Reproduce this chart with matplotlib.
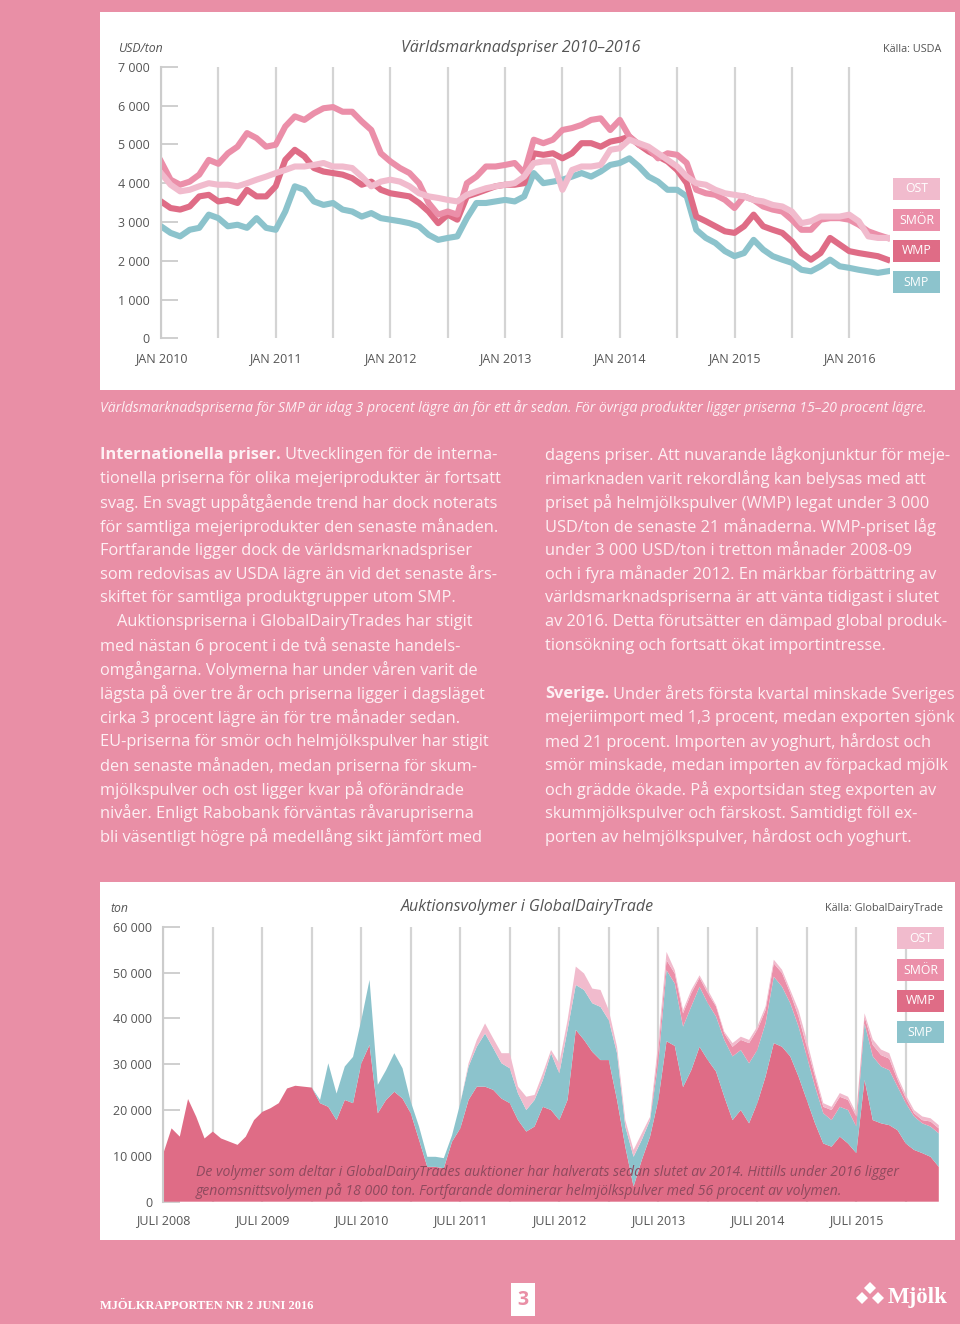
import numpy as np
import matplotlib
matplotlib.use('Agg')
import matplotlib.pyplot as plt
from matplotlib.patches import Rectangle, Polygon

# ---- data: world market prices, USD/ton (thousands), monthly from Jan 2010 ----
smor_price = [4.56, 4.09, 3.96, 4.04, 4.22, 4.60, 4.50, 4.77, 4.94, 5.29, 5.16, 4.94,
              4.99, 5.46, 5.72, 5.63, 5.80, 5.93, 5.96, 5.84, 5.84, 5.59, 5.37, 4.77,
              4.56, 4.39, 4.26, 4.00, 3.49, 3.19, 3.27, 3.19, 4.00, 4.17, 4.43, 4.43,
              4.47, 4.52, 4.26, 5.12, 5.03, 5.12, 5.37, 5.42, 5.50, 5.63, 5.67, 5.37,
              5.63, 5.20, 4.99, 4.90, 4.64, 4.77, 4.73, 4.52, 3.83, 3.74, 3.70, 3.57,
              3.36, 3.66, 3.57, 3.40, 3.32, 3.27, 3.06, 2.80, 2.80, 3.06, 3.10, 3.10,
              3.06, 2.93, 2.76, 2.67, 2.59]
wmp_price = [3.53, 3.36, 3.32, 3.40, 3.66, 3.70, 3.53, 3.57, 3.49, 3.83, 3.66, 3.66,
             3.92, 4.60, 4.86, 4.69, 4.39, 4.30, 4.26, 4.22, 4.13, 3.96, 4.04, 3.83,
             3.74, 3.70, 3.66, 3.49, 3.27, 2.97, 3.19, 3.06, 3.66, 3.74, 3.83, 3.92,
             3.96, 3.96, 4.00, 4.77, 4.73, 4.77, 4.64, 4.77, 5.03, 5.03, 4.94, 5.07,
             5.12, 5.20, 4.99, 4.82, 4.69, 4.56, 4.34, 4.00, 3.14, 3.02, 2.89, 2.76,
             2.72, 2.89, 3.19, 2.89, 2.80, 2.72, 2.50, 2.20, 2.03, 2.20, 2.59, 2.42,
             2.25, 2.20, 2.16, 2.12, 2.03]
ost_price = [4.26, 3.96, 3.79, 3.83, 3.92, 4.00, 3.96, 3.96, 3.92, 4.00, 4.09, 4.17,
             4.26, 4.34, 4.43, 4.43, 4.47, 4.52, 4.43, 4.43, 4.39, 4.17, 3.92, 4.04,
             4.09, 4.04, 3.92, 3.74, 3.66, 3.62, 3.57, 3.53, 3.70, 3.79, 3.87, 3.92,
             3.96, 4.00, 4.17, 4.52, 4.56, 4.56, 3.83, 4.34, 4.43, 4.43, 4.47, 4.86,
             4.90, 5.12, 5.03, 4.94, 4.77, 4.60, 4.43, 4.17, 4.00, 3.96, 3.83, 3.74,
             3.70, 3.66, 3.57, 3.53, 3.44, 3.40, 3.27, 2.97, 3.02, 3.14, 3.14, 3.14,
             3.19, 3.02, 2.63, 2.59, 2.59]
smp_price = [2.89, 2.72, 2.63, 2.80, 2.85, 3.19, 3.10, 2.89, 2.93, 2.85, 3.10, 2.85,
             2.80, 3.27, 3.92, 3.83, 3.53, 3.44, 3.49, 3.32, 3.27, 3.14, 3.23, 3.10,
             3.06, 3.02, 2.97, 2.89, 2.67, 2.54, 2.59, 2.63, 3.10, 3.49, 3.49, 3.53,
             3.57, 3.53, 3.66, 4.26, 4.00, 4.04, 4.09, 4.17, 4.26, 4.17, 4.30, 4.47,
             4.52, 4.64, 4.43, 4.17, 4.04, 3.83, 3.83, 3.66, 2.80, 2.59, 2.46, 2.25,
             2.12, 2.20, 2.54, 2.29, 2.12, 2.03, 1.95, 1.77, 1.73, 1.86, 2.03, 1.86,
             1.82, 1.77, 1.73, 1.69, 1.73]
price_years = ['JAN 2010', 'JAN 2011', 'JAN 2012', 'JAN 2013', 'JAN 2014', 'JAN 2015', 'JAN 2016']

# ---- data: GDT auction volumes, thousand ton, monthly from Jul 2008 ----
wmp_vol = [10.5, 16.0, 14.2, 22.4, 18.5, 13.8, 15.3, 13.8, 13.1, 12.4, 14.2, 17.8,
           19.6, 20.4, 21.5, 24.7, 25.3, 25.1, 24.9, 21.5, 20.7, 17.8, 22.2, 21.5,
           30.2, 34.2, 19.3, 22.2, 24.0, 22.5, 19.3, 13.5, 7.6, 7.6, 7.3, 13.1,
           16.0, 22.2, 25.1, 25.1, 24.4, 22.5, 21.5, 17.8, 15.3, 16.4, 20.7, 20.0,
           17.8, 22.2, 37.5, 35.3, 32.7, 30.9, 30.9, 22.2, 12.0, 3.3, 9.1, 14.2,
           22.2, 35.0, 34.0, 25.0, 28.7, 33.8, 30.9, 28.4, 22.9, 17.8, 20.0, 17.1,
           21.5, 27.3, 34.6, 33.8, 31.7, 27.3, 22.2, 17.1, 12.7, 12.0, 14.2, 12.7,
           10.6, 26.6, 17.8, 17.1, 16.7, 15.6, 12.7, 11.3, 10.6, 9.8, 7.6]
smp_vol = [0] * 19 + [0.7, 9.5, 5.8, 7.3, 10.1,
           9.4, 14.2, 6.2, 6.5, 8.4, 6.6, 2.5, 2.9, 2.2, 2.2, 2.2, 1.4,
           5.5, 7.3, 8.7, 11.6, 9.1, 7.7, 7.6, 5.8, 4.7, 5.8, 5.8, 12.4,
           10.2, 15.3, 9.8, 10.9, 10.6, 11.6, 8.7, 10.2, 4.4, 6.5, 4.4, 3.6,
           8.0, 15.5, 13.6, 13.2, 13.9, 13.1, 12.4, 12.0, 12.4, 13.9, 13.1, 13.1,
           11.6, 11.6, 14.5, 13.1, 11.6, 10.9, 9.5, 8.0, 6.6, 5.8, 6.5, 7.3,
           5.8, 12.3, 13.9, 12.4, 12.0, 9.5, 8.8, 7.3, 6.5, 6.6, 7.3]
smor_vol = [0] * 60 + [2.9, 2.2, 2.2, 2.9, 2.9, 2.0, 2.2, 2.2, 1.4, 2.1, 2.2, 4.4,
           4.4, 2.9, 2.9, 3.0, 2.2, 2.2, 2.1, 2.2, 1.4, 2.2, 2.2, 2.2,
           2.2, 1.5, 2.5, 2.5, 2.5, 1.5, 1.1, 0.7, 0.7, 1.1, 1.1]
ost_vol = [0] * 37 + [0.7, 1.5, 2.2, 2.1, 2.2, 3.3, 1.5, 2.9, 1.1, 1.5, 0.7,
           2.2, 2.1, 4.0, 3.6, 3.2, 3.7, 2.2, 1.4, 1.4, 1.5, 1.4, 0.7,
           1.8, 1.8, 0.7, 0.7, 0.7, 0.5, 0.7, 0.3, 0.4, 0.8, 0.7, 0.7,
           0.7, 0.8, 0.8, 0.7, 0.7, 1.4, 1.5, 0.7, 0.8, 0.7, 0.8, 0.7,
           0.7, 0.7, 1.2, 1.2, 1.2, 0.7, 0.7, 0.7, 0.8, 0.7, 0.7]
vol_years = ['JULI 2008', 'JULI 2009', 'JULI 2010', 'JULI 2011',
             'JULI 2012', 'JULI 2013', 'JULI 2014', 'JULI 2015']

# ---- colours ----
PAGE = '#E98FA6'
C_OST = '#F1BBCD'
C_SMOR = '#EB8FA9'
C_WMP = '#DF6C86'
C_SMP = '#8CC3CC'
GRID = '#d4d4d4'
TXT = '#555555'
BODY = '#FDF0F4'

W, H = 960, 1324
plt.rcParams['font.family'] = ['Open Sans', 'DejaVu Sans']

fig = plt.figure(figsize=(W / 100, H / 100), dpi=100, facecolor=PAGE)


def box(x, y, w, h):
    return [x / W, 1 - (y + h) / H, w / W, h / H]


def fx(x):
    return x / W


def fy(y):
    return 1 - y / H


def rect(x, y, w, h, color, z=-1):
    fig.add_artist(Rectangle((fx(x), fy(y + h)), w / W, h / H, transform=fig.transFigure,
                             facecolor=color, edgecolor='none', zorder=z))


def legend_box(x, y, label, color):
    rect(x, y, 47, 22, color, z=3)
    fig.text(fx(x + 23.5), fy(y + 11), label, color='white', fontsize=8.8,
             ha='center', va='center', zorder=4)


def style_axes(ax, ymax, ystep):
    ax.set_facecolor('none')
    for s in ['top', 'right', 'bottom']:
        ax.spines[s].set_visible(False)
    ax.spines['left'].set_color('#cccccc')
    ax.spines['left'].set_linewidth(1.5)
    ticks = list(range(0, ymax + 1, ystep))
    ax.set_yticks(ticks)
    ax.set_yticklabels([f'{t:,}'.replace(',', ' ') for t in ticks])
    ax.set_ylim(0, ymax)
    ax.tick_params(axis='y', direction='in', length=12, width=1.3, color='#cccccc',
                   labelsize=9, labelcolor=TXT, pad=8)
    ax.tick_params(axis='x', length=0, labelsize=9, labelcolor=TXT, pad=10)
    ax.grid(axis='x', color=GRID, lw=1.6)
    ax.set_axisbelow(True)


# ================= top chart =================
rect(100, 12, 855, 378, 'white')
ax1 = fig.add_axes(box(161, 66.7, 890 - 161, 338.5 - 66.7))
top_x = 2010 + np.arange(len(smp_price)) / 12
for vals, col in [(smp_price, C_SMP), (wmp_price, C_WMP), (smor_price, C_SMOR), (ost_price, C_OST)]:
    ax1.plot(top_x, np.array(vals) * 1000, color=col, lw=4.4, solid_joinstyle='round')
ax1.set_xlim(2010, 2010 + (890 - 161) / 114.7)
style_axes(ax1, 7000, 1000)
half = np.arange(2010, 2016.01, 0.5)
ax1.set_xticks(half)
ax1.set_xticklabels([price_years[int(h - 2010)] if h % 1 == 0 else '' for h in half])

fig.text(fx(118), fy(48), 'USD/ton', style='italic', fontsize=8.8, color=TXT, va='center')
fig.text(fx(521), fy(48), 'Världsmarknadspriser 2010–2016', style='italic', fontsize=11.5,
         color=TXT, ha='center', va='center')
fig.text(fx(941), fy(50), 'Källa: USDA', fontsize=7.8, color=TXT, ha='right', va='center')
for lab, col, y in [('OST', C_OST, 178), ('SMÖR', C_SMOR, 209), ('WMP', C_WMP, 240), ('SMP', C_SMP, 271)]:
    legend_box(893, y, lab, col)

fig.text(fx(100), fy(408), 'Världsmarknadspriserna för SMP är idag 3 procent lägre än för ett år sedan. '
         'För övriga produkter ligger priserna 15–20 procent lägre.',
         style='italic', fontsize=10.1, color=BODY, va='center')

# ================= body text =================
left_col = [
    ('Internationella priser.', 'Utvecklingen för de interna-'),
    'tionella priserna för olika mejeriprodukter är fortsatt',
    'svag. En svagt uppåtgående trend har dock noterats',
    'för samtliga mejeriprodukter den senaste månaden.',
    'Fortfarande ligger dock de världsmarknadspriser',
    'som redovisas av USDA lägre än vid det senaste års-',
    'skiftet för samtliga produktgrupper utom SMP.',
    '    Auktionspriserna i GlobalDairyTrades har stigit',
    'med nästan 6 procent i de två senaste handels-',
    'omgångarna. Volymerna har under våren varit de',
    'lägsta på över tre år och priserna ligger i dagsläget',
    'cirka 3 procent lägre än för tre månader sedan.',
    'EU-priserna för smör och helmjölkspulver har stigit',
    'den senaste månaden, medan priserna för skum-',
    'mjölkspulver och ost ligger kvar på oförändrade',
    'nivåer. Enligt Rabobank förväntas råvarupriserna',
    'bli väsentligt högre på medellång sikt jämfört med',
]
right_col = [
    'dagens priser. Att nuvarande lågkonjunktur för meje-',
    'rimarknaden varit rekordlång kan belysas med att',
    'priset på helmjölkspulver (WMP) legat under 3 000',
    'USD/ton de senaste 21 månaderna. WMP-priset låg',
    'under 3 000 USD/ton i tretton månader 2008-09',
    'och i fyra månader 2012. En märkbar förbättring av',
    'världsmarknadspriserna är att vänta tidigast i slutet',
    'av 2016. Detta förutsätter en dämpad global produk-',
    'tionsökning och fortsatt ökat importintresse.',
    '',
    ('Sverige.', 'Under årets första kvartal minskade Sveriges'),
    'mejeriimport med 1,3 procent, medan exporten sjönk',
    'med 21 procent. Importen av yoghurt, hårdost och',
    'smör minskade, medan importen av förpackad mjölk',
    'och grädde ökade. På exportsidan steg exporten av',
    'skummjölkspulver och färskost. Samtidigt föll ex-',
    'porten av helmjölkspulver, hårdost och yoghurt.',
]
renderer = fig.canvas.get_renderer()
BODY_FS = 11.8
for x0, lines in [(100, left_col), (545, right_col)]:
    for k, line in enumerate(lines):
        y = 455 + 23.9 * k
        if isinstance(line, tuple):
            t = fig.text(fx(x0), fy(y), line[0], fontsize=BODY_FS, weight='bold', color=BODY, va='center')
            bb = t.get_window_extent(renderer)
            fig.text(bb.x1 / W + 4 / W, fy(y), line[1], fontsize=BODY_FS, color=BODY, va='center')
        else:
            fig.text(fx(x0), fy(y), line, fontsize=BODY_FS, color=BODY, va='center')

# ================= bottom chart =================
rect(100, 882, 855, 358, 'white')
ax2 = fig.add_axes(box(163.3, 926.7, 945 - 163.3, 1201.7 - 926.7))
bot_x = 2008.5 + np.arange(len(wmp_vol)) / 12
ax2.stackplot(bot_x, np.array(wmp_vol) * 1000, np.array(smp_vol) * 1000,
              np.array(smor_vol) * 1000, np.array(ost_vol) * 1000,
              colors=[C_WMP, C_SMP, C_SMOR, C_OST], lw=0)
ax2.set_xlim(2008.5, 2008.5 + (945 - 163.3) / 99)
style_axes(ax2, 60000, 10000)
half2 = np.arange(2008.5, 2016.01, 0.5)
ax2.set_xticks(half2)
ax2.set_xticklabels([vol_years[int(h - 2008.5)] if h % 1 == 0.5 else '' for h in half2])
ax2.tick_params(axis='x', pad=9)

fig.text(fx(110), fy(908), 'ton', style='italic', fontsize=8.8, color=TXT, va='center')
fig.text(fx(527), fy(907), 'Auktionsvolymer i GlobalDairyTrade', style='italic', fontsize=11.5,
         color=TXT, ha='center', va='center')
fig.text(fx(943), fy(909), 'Källa: GlobalDairyTrade', fontsize=7.8, color=TXT, ha='right', va='center')
for lab, col, y in [('OST', C_OST, 927), ('SMÖR', C_SMOR, 959), ('WMP', C_WMP, 990), ('SMP', C_SMP, 1021)]:
    legend_box(897, y, lab, col)

fig.text(fx(196), fy(1173), 'De volymer som deltar i GlobalDairyTrades auktioner har halverats sedan '
         'slutet av 2014. Hittills under 2016 ligger', style='italic', fontsize=10.1,
         color='#8E4A5E', va='center', zorder=5)
fig.text(fx(196), fy(1191), 'genomsnittsvolymen på 18 000 ton. Fortfarande dominerar helmjölkspulver '
         'med 56 procent av volymen.', style='italic', fontsize=10.1,
         color='#8E4A5E', va='center', zorder=5)

# ================= footer =================
fig.text(fx(100), fy(1306), 'MJÖLKRAPPORTEN NR 2 JUNI 2016', family='Liberation Serif',
         weight='bold', fontsize=9, color='white', va='center')
rect(511, 1283, 24, 33, 'white', z=2)
fig.text(fx(523), fy(1300), '3', weight='bold', fontsize=14, color=PAGE, ha='center', va='center', zorder=3)
for cx, cy in [(870, 1288), (862, 1298), (878, 1298)]:
    fig.add_artist(Polygon([(fx(cx), fy(cy - 6)), (fx(cx + 6), fy(cy)), (fx(cx), fy(cy + 6)),
                            (fx(cx - 6), fy(cy))], closed=True, transform=fig.transFigure,
                           facecolor='white', edgecolor='none'))
fig.text(fx(888), fy(1297), 'Mjölk', family='Liberation Serif', weight='bold', fontsize=16.5,
         color='white', va='center')

fig.savefig('out.png', dpi=100, facecolor=PAGE)
